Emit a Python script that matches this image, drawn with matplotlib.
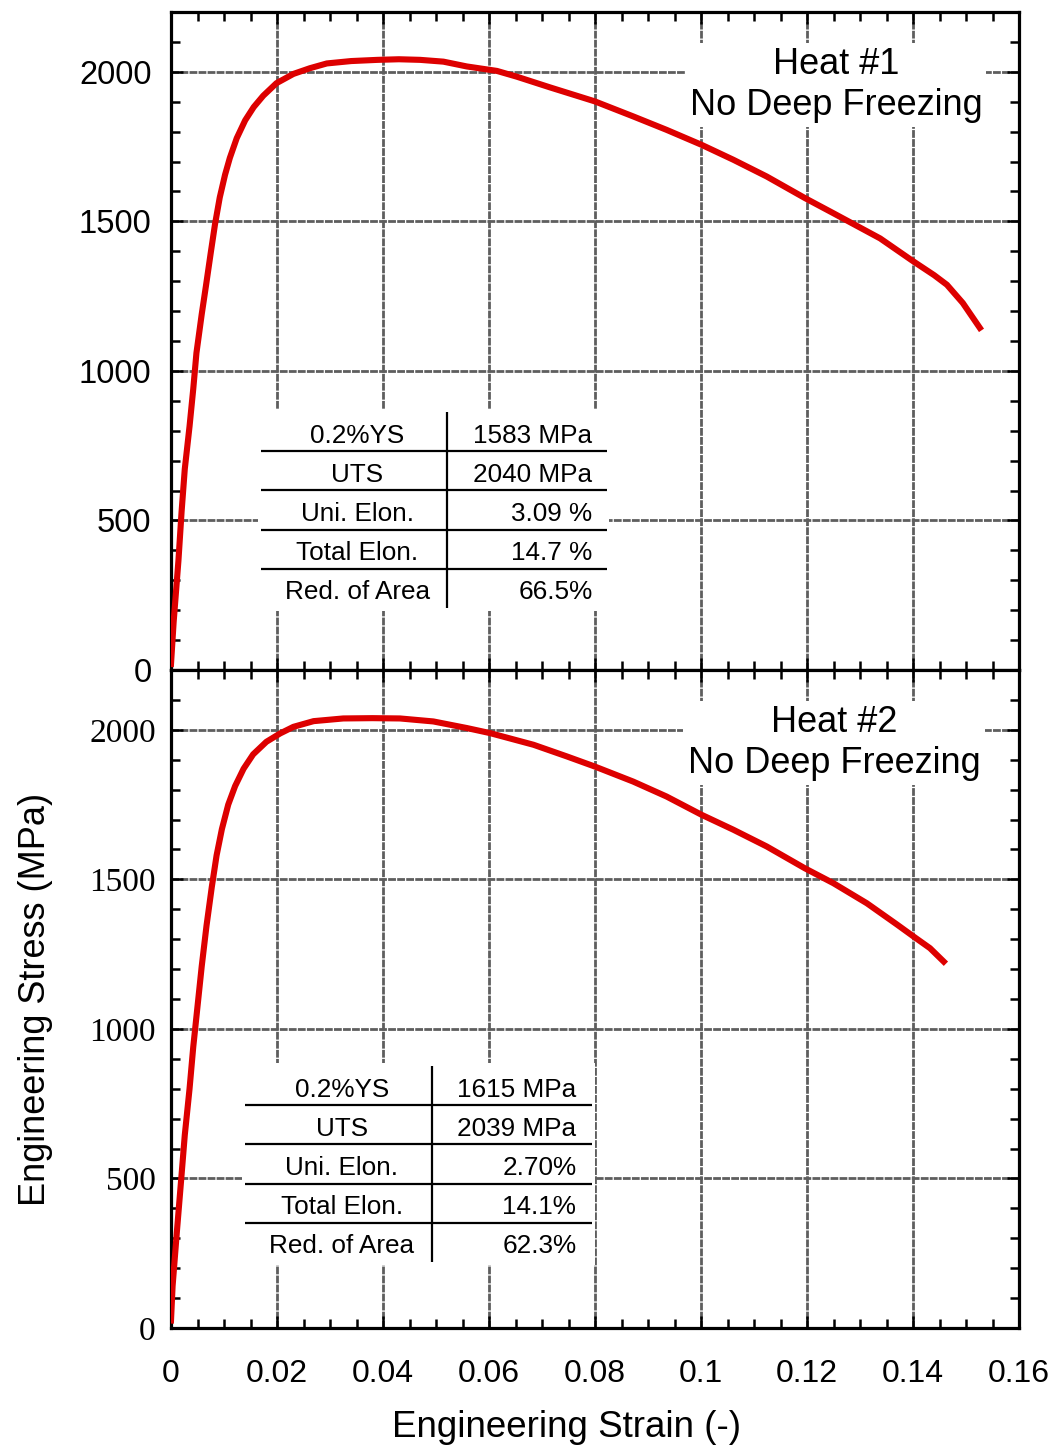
import matplotlib
matplotlib.use("Agg")
import matplotlib.pyplot as plt
from matplotlib.patches import Rectangle
from matplotlib.ticker import MultipleLocator, FixedLocator, FixedFormatter

# ---- data -------------------------------------------------------------
strain_heat1 = [0.0, 0.0005, 0.0014, 0.0020, 0.0026, 0.0035, 0.0042, 0.0048,
                0.0058, 0.0066, 0.0075, 0.0083, 0.0092, 0.0102, 0.0111, 0.0124,
                0.0140, 0.0156, 0.0174, 0.0199, 0.0231, 0.0262, 0.0294, 0.0340,
                0.0390, 0.0430, 0.0470, 0.0514, 0.0558, 0.0615, 0.0652, 0.0715,
                0.0800, 0.0872, 0.0935, 0.1001, 0.1061, 0.1124, 0.1196, 0.1250,
                0.1338, 0.1400, 0.1440, 0.1464, 0.1494, 0.1526]
stress_heat1 = [20, 161, 365, 530, 672, 815, 940, 1060,
                1190, 1285, 1395, 1490, 1580, 1656, 1712, 1778,
                1838, 1882, 1920, 1962, 1993, 2012, 2028, 2036,
                2040, 2042, 2040, 2034, 2018, 2003, 1984, 1948,
                1901, 1851, 1806, 1756, 1706, 1650, 1578, 1527,
                1443, 1367, 1320, 1288, 1227, 1144]

strain_heat2 = [0.0, 0.0003, 0.0011, 0.0019, 0.0026, 0.0035, 0.0042, 0.0050,
                0.0058, 0.0067, 0.0077, 0.0086, 0.0096, 0.0108, 0.0121, 0.0137,
                0.0155, 0.0180, 0.0206, 0.0231, 0.0269, 0.0325, 0.0380, 0.0432,
                0.0495, 0.0558, 0.0602, 0.0684, 0.0747, 0.0800, 0.0872, 0.0935,
                0.1001, 0.1061, 0.1124, 0.1196, 0.1250, 0.1313, 0.1369, 0.1401,
                0.1432, 0.1458]
stress_heat2 = [25, 140, 320, 492, 645, 800, 940, 1075,
                1210, 1345, 1475, 1580, 1668, 1750, 1812, 1870,
                1918, 1960, 1988, 2010, 2029, 2038, 2039, 2038,
                2028, 2006, 1989, 1950, 1911, 1877, 1827, 1777,
                1716, 1666, 1610, 1537, 1487, 1420, 1350, 1309,
                1270, 1225]

table_labels = ["0.2%YS", "UTS", "Uni. Elon.", "Total Elon.", "Red. of Area"]
table_values_heat1 = ["1583 MPa", "2040 MPa", "3.09 %", "14.7 %", "66.5%"]
table_values_heat2 = ["1615 MPa", "2039 MPa", "2.70%", "14.1%", "62.3%"]

panel_titles = ["Heat #1\nNo Deep Freezing", "Heat #2\nNo Deep Freezing"]

x_ticks = [0, 0.02, 0.04, 0.06, 0.08, 0.1, 0.12, 0.14, 0.16]
x_tick_labels = ["0", "0.02", "0.04", "0.06", "0.08", "0.1", "0.12", "0.14", "0.16"]
y_ticks = [0, 500, 1000, 1500, 2000]
y_tick_labels = ["0", "500", "1000", "1500", "2000"]

# ---- styling ----------------------------------------------------------
SANS = "Liberation Sans"
SERIF = "Liberation Serif"
RED = "#dd0000"
GRID = "#5e5e5e"

plt.rcParams["font.family"] = [SANS, "DejaVu Sans"]

fig = plt.figure(figsize=(10.57, 14.5), dpi=100)
left, right = 171 / 1057, 1019 / 1057
ax_top = fig.add_axes([left, 1 - 670 / 1450, right - left, 658 / 1450])
ax_bot = fig.add_axes([left, 1 - 1328 / 1450, right - left, 658 / 1450],
                      sharex=ax_top)


def style_axes(ax, tick_font):
    ax.set_xlim(0, 0.16)
    ax.set_ylim(0, 2200)
    ax.set_axisbelow(True)
    ax.xaxis.set_major_locator(FixedLocator(x_ticks))
    ax.xaxis.set_minor_locator(MultipleLocator(0.005))
    ax.yaxis.set_major_locator(FixedLocator(y_ticks))
    ax.yaxis.set_major_formatter(FixedFormatter(y_tick_labels))
    ax.yaxis.set_minor_locator(MultipleLocator(100))
    ax.grid(True, which="major", color=GRID, linewidth=2.0,
            linestyle=(0, (2.8, 0.45)))
    for s in ax.spines.values():
        s.set_linewidth(2.3)
    ax.tick_params(which="both", direction="in", top=True, right=True,
                   width=1.8, color="black")
    ax.tick_params(which="major", length=8.5)
    ax.tick_params(which="minor", length=6.5)
    ax.tick_params(axis="x", which="major", pad=22, labelsize=23)
    for lab in ax.get_yticklabels():
        lab.set_fontfamily(tick_font)
    for lab in ax.get_xticklabels():
        lab.set_fontfamily(SANS)


def draw_table(ax, x0, x1, xdiv, y0, y1, labels, values, right_edge):
    ax.add_patch(Rectangle((x0 - 0.003, y0 - 0.004), (x1 - x0) + 0.006,
                           (y1 - y0) + 0.008, transform=ax.transAxes,
                           facecolor="white", edgecolor="none", zorder=2.5))
    n = len(labels)
    h = (y1 - y0) / n
    for i in range(1, n):
        yy = y1 - i * h
        ax.plot([x0, x1], [yy, yy], transform=ax.transAxes, color="black",
                linewidth=1.6, solid_capstyle="butt", zorder=4)
    ax.plot([xdiv, xdiv], [y0, y1], transform=ax.transAxes, color="black",
            linewidth=1.6, solid_capstyle="butt", zorder=4)
    for i, (lab, val) in enumerate(zip(labels, values)):
        yc = y1 - (i + 0.5) * h - 0.006
        ax.text((x0 + xdiv) / 2 + 0.004, yc, lab, transform=ax.transAxes,
                ha="center", va="center", fontsize=18.8, fontfamily=SANS,
                zorder=5)
        ax.text(right_edge, yc, val, transform=ax.transAxes,
                ha="right", va="center", fontsize=18.8, fontfamily=SANS,
                zorder=5)


# ---- top panel: Heat #1 -----------------------------------------------
ax_top.plot(strain_heat1, stress_heat1, color=RED, linewidth=4.4, zorder=3)
style_axes(ax_top, SANS)
ax_top.tick_params(axis="y", which="major", pad=14, labelsize=23.5)
plt.setp(ax_top.get_xticklabels(), visible=False)
ax_top.text(0.784, 0.889, panel_titles[0], transform=ax_top.transAxes,
            ha="center", va="center", fontsize=26, linespacing=1.22,
            fontfamily=SANS, zorder=5,
            bbox=dict(facecolor="white", edgecolor="none", pad=3))
draw_table(ax_top, 0.106, 0.514, 0.3255, 0.0942, 0.392,
           table_labels, table_values_heat1, 0.497)

# ---- bottom panel: Heat #2 --------------------------------------------
ax_bot.plot(strain_heat2, stress_heat2, color=RED, linewidth=4.4, zorder=3)
style_axes(ax_bot, SERIF)
ax_bot.tick_params(axis="y", which="major", pad=11, labelsize=24)
ax_bot.xaxis.set_major_formatter(FixedFormatter(x_tick_labels))
ax_bot.text(0.782, 0.889, panel_titles[1], transform=ax_bot.transAxes,
            ha="center", va="center", fontsize=26, linespacing=1.22,
            fontfamily=SANS, zorder=5,
            bbox=dict(facecolor="white", edgecolor="none", pad=3))
draw_table(ax_bot, 0.0873, 0.4965, 0.3078, 0.1003, 0.398,
           table_labels, table_values_heat2, 0.478)

ax_bot.set_xlabel("Engineering Strain (-)", fontsize=26.5, fontfamily=SANS)
ax_bot.xaxis.set_label_coords(0.466, -0.1246)
ax_bot.set_ylabel("Engineering Stress (MPa)", fontsize=26, fontfamily=SANS,
                  labelpad=26)

fig.savefig("out.png", dpi=100, facecolor="white")
